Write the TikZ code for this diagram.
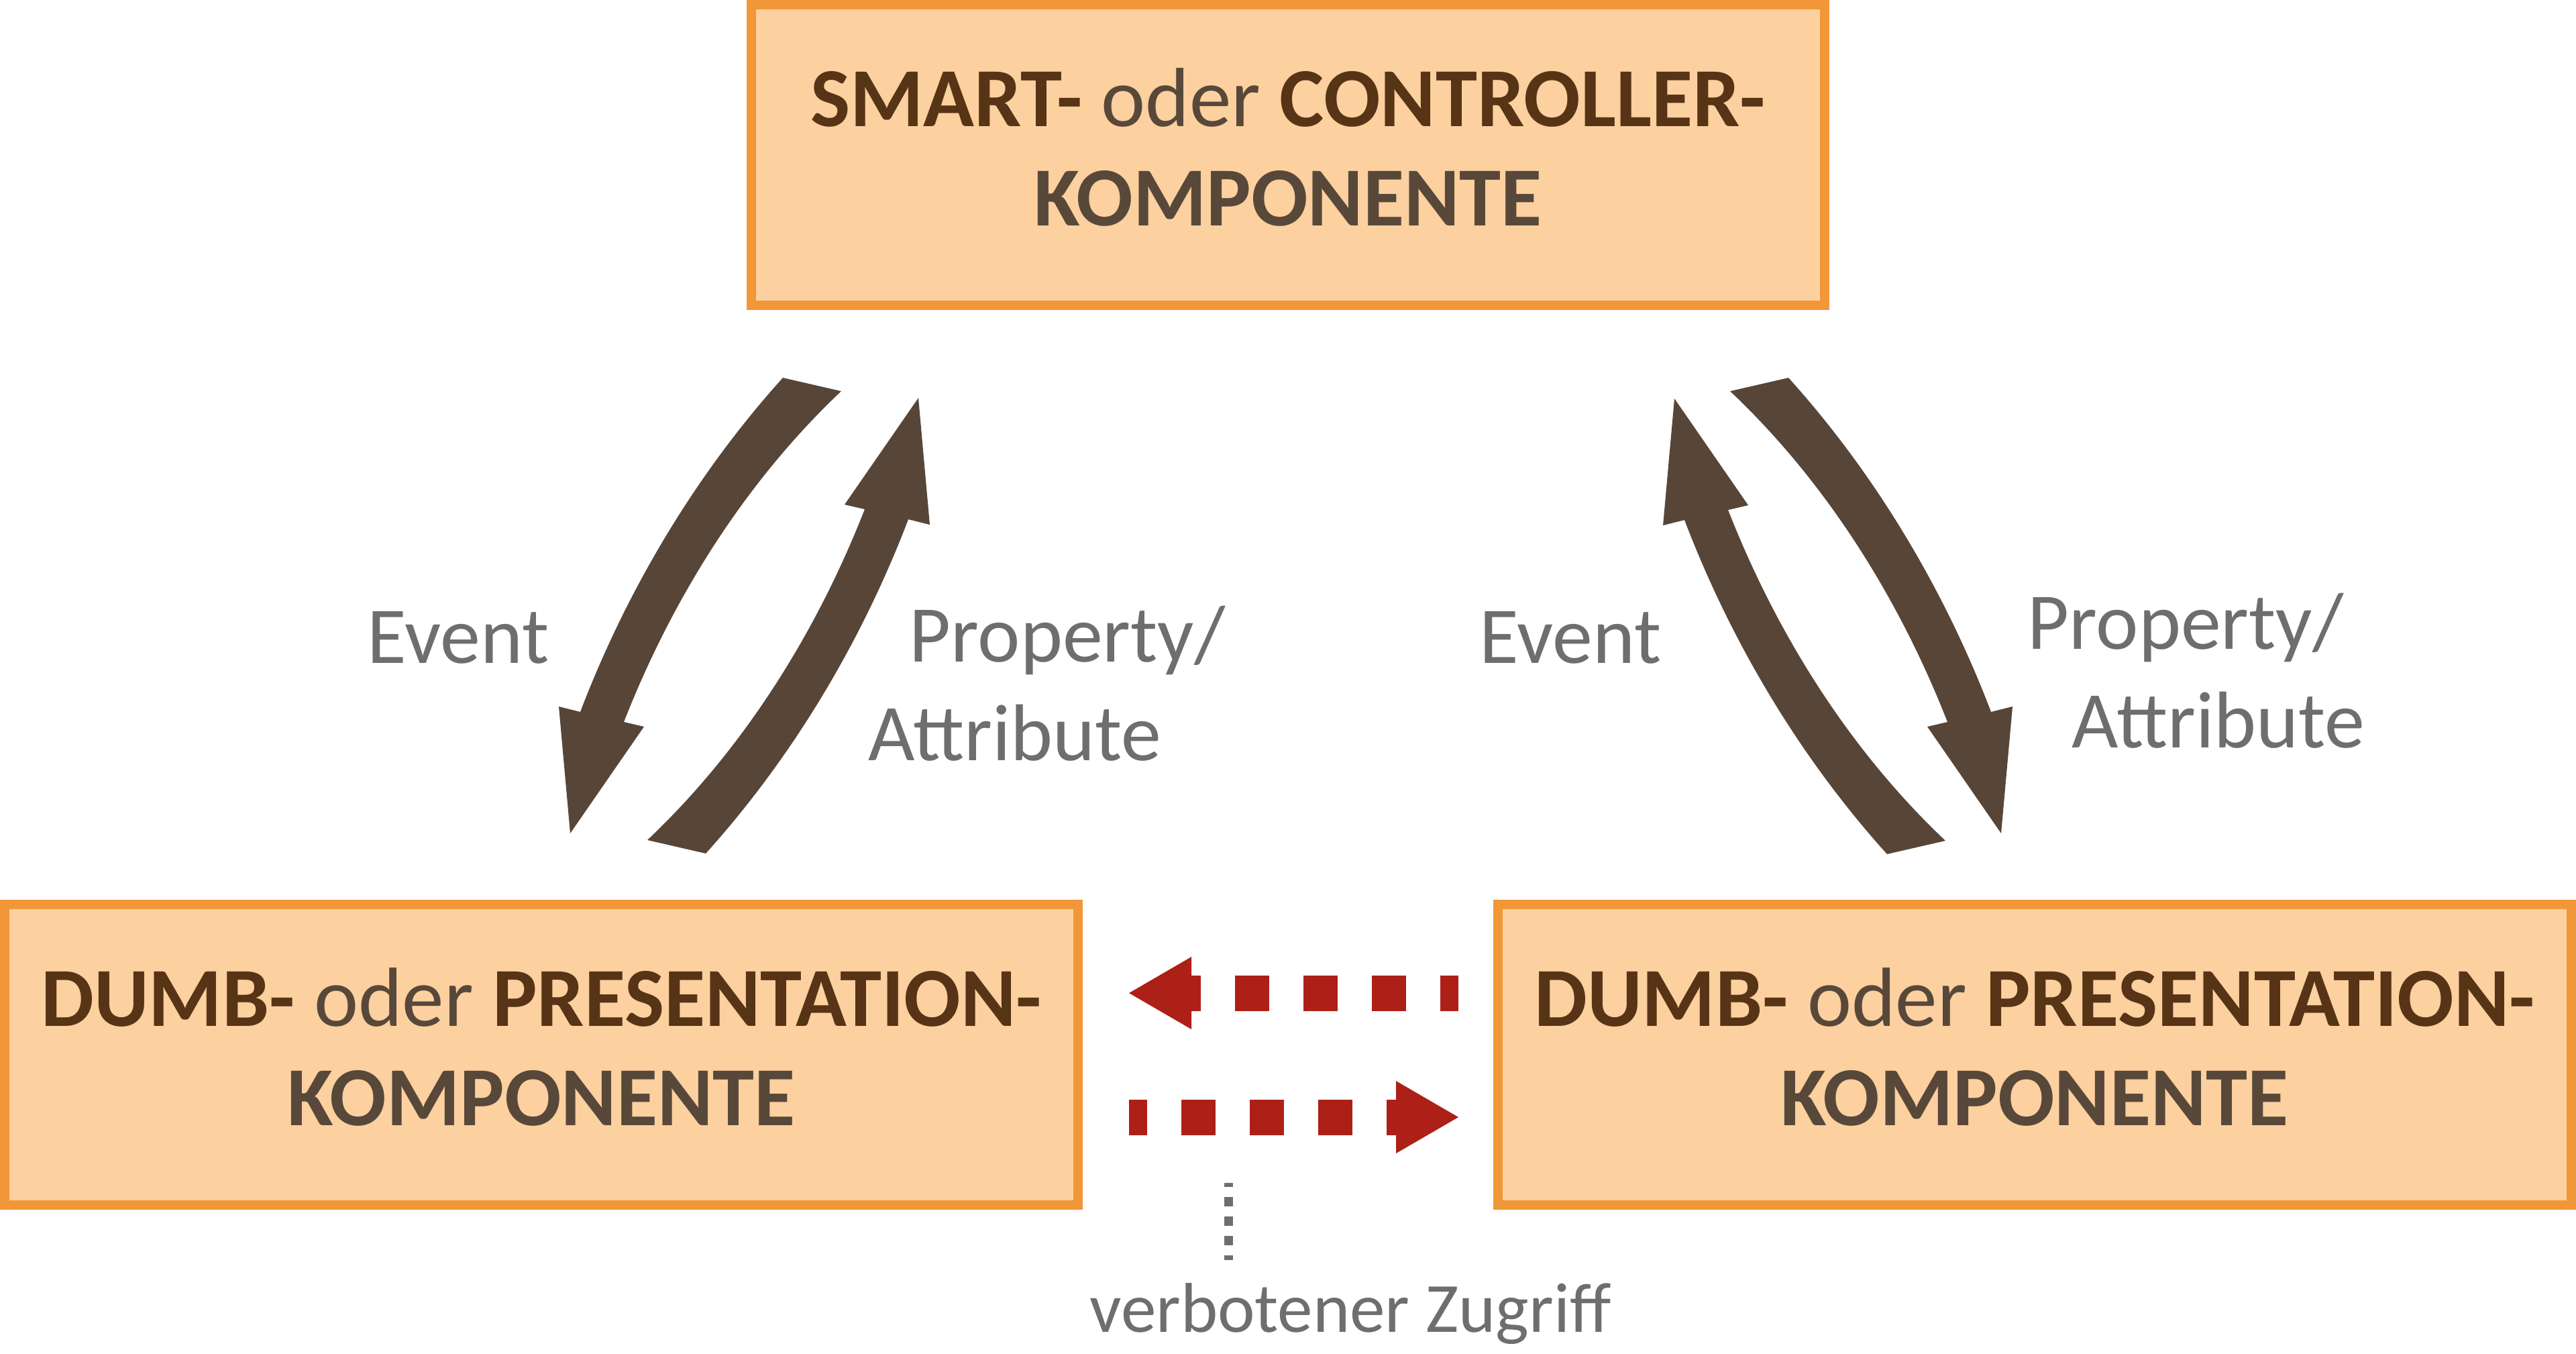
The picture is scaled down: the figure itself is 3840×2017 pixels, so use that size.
\documentclass[tikz,border=0pt]{standalone}
\usepackage{fontspec}
\setmainfont{Carlito}
\usepackage{xcolor}
\usetikzlibrary{arrows.meta,calc,positioning}

\definecolor{boxfill}{RGB}{252,208,159}
\definecolor{boxline}{RGB}{241,151,55}
\definecolor{arrowbrown}{RGB}{87,70,56}
\definecolor{darkbrown}{RGB}{87,52,22}
\definecolor{greybrown}{RGB}{88,72,58}
\definecolor{forbidred}{RGB}{173,32,24}
\definecolor{labelgrey}{RGB}{110,110,110}

\newcommand{\kw}[1]{\textcolor{darkbrown}{#1}}
\newcommand{\lowline}{\rule[-6pt]{0pt}{6pt}}
% outline of one curved block arrow (the left "Event" arrow)
\newcommand{\flowshape}{(1167,563) .. controls (1037,707) and (934,880) .. (865,1061) -- (833,1053)
  -- (850,1242) -- (960,1083) -- (930,1076) .. controls (1002,892) and (1111,718) .. (1254,583) -- cycle}

\tikzset{
  comp/.style={draw=boxline, fill=boxfill, line width=3.5pt, minimum width=400pt, minimum height=112pt,
    inner sep=0pt, align=center, text=greybrown, font=\fontsize{31.3pt}{37pt}\selectfont\bfseries},
  lbl/.style={text=labelgrey, inner sep=0pt, align=left, font=\fontsize{30pt}{36.75pt}\selectfont},
  flow/.style={fill=arrowbrown},
  forbid/.style={draw=forbidred, line width=13.25pt, dash pattern=on 12.75pt off 12.75pt, dash phase=6pt,
    -{Triangle[length=23.25pt,width=27pt,line width=0pt]}},
  hint/.style={draw=labelgrey, line width=3.25pt, dash pattern=on 3.5pt off 3.75pt, dash phase=2pt},
}

\begin{document}
\begin{tikzpicture}[x=0.25pt,y=0.25pt,yscale=-1]
\useasboundingbox (0,0) rectangle (3840,2017);

%Shape: Rectangle [smart / controller]
\node[comp] (smart) at (1920,231) {\kw{SMART-} {\mdseries oder} \kw{CONTROLLER-}\\KOMPONENTE\lowline};
%Shape: Rectangle [dumb / presentation, left]
\node[comp] (dumbL) at (807,1572) {\kw{DUMB-} {\mdseries oder} \kw{PRESENTATION-}\\KOMPONENTE\lowline};
%Shape: Rectangle [dumb / presentation, right]
\node[comp] (dumbR) at (3033,1572) {\kw{DUMB-} {\mdseries oder} \kw{PRESENTATION-}\\KOMPONENTE\lowline};

%Curve Arrows [left pair]
\fill[flow] \flowshape;
\fill[flow, shift={(2219,1835)}, rotate=180] \flowshape;

%Curve Arrows [right pair]
\fill[flow, shift={(3833,0)}, xscale=-1] \flowshape;
\fill[flow, shift={(1646,1836)}, yscale=-1] \flowshape;

%Straight Lines [forbidden access]
\coordinate (fbA) at (2174,1480);
\coordinate (fbB) at (1683,1480);
\coordinate (fbC) at (1683,1665);
\coordinate (fbD) at (2174,1665);
\draw[forbid] (fbA) -- (fbB);
\draw[forbid] (fbC) -- (fbD);

% Text Node
\node[lbl, anchor=base west] (evtL) at (547,988) {Event};
\node[lbl, anchor=base west] (evtR) at (2205,988) {Event};
\node[lbl, anchor=base west] (propL) at (1294,1133) {\hspace*{15.25pt}Property/\\Attribute};
\node[lbl, anchor=base west] (propR) at (3022,1114) {Property/\\\hspace*{16.5pt}Attribute};
\node[lbl, anchor=base, font=\fontsize{26.3pt}{31pt}\selectfont] (note) at (2013,1985) {verbotener Zugriff};

%Straight Lines [hint]
\coordinate (hintT) at (1831,1763);
\draw[hint] (hintT) -- (hintT |- 0,1878);

\end{tikzpicture}
\end{document}
